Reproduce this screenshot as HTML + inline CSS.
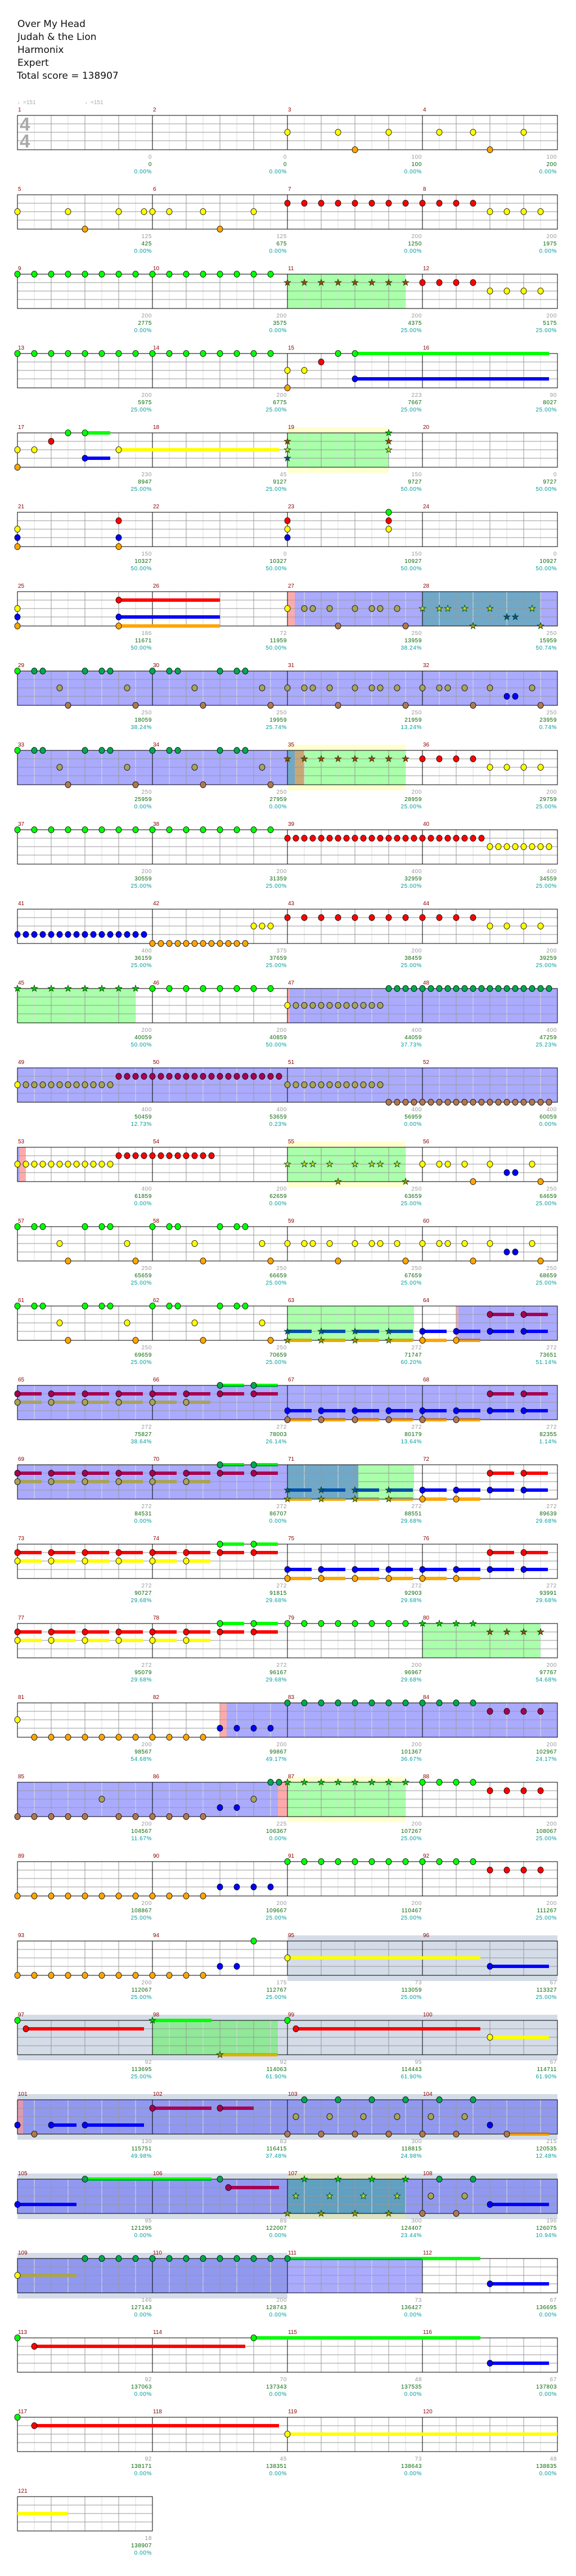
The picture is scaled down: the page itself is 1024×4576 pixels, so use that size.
<!DOCTYPE html>
<html><head><meta charset="utf-8"><style>
html,body{margin:0;padding:0;background:#fff}
svg{display:block}
.t{font:17px "DejaVu Sans","Liberation Sans",sans-serif;fill:#111}
.n{font:10px "Liberation Sans",sans-serif;fill:#8b0000}
.a{font:10px "Liberation Sans",sans-serif;fill:#999;text-anchor:end;letter-spacing:.6px}
.b{font:10px "Liberation Sans",sans-serif;fill:#006400;text-anchor:end;letter-spacing:.6px}
.c{font:10px "Liberation Sans",sans-serif;fill:#009a9a;text-anchor:end;letter-spacing:.6px}
.tm{font:10px "Liberation Sans",sans-serif;fill:#aaa}
</style></head><body>
<svg xmlns="http://www.w3.org/2000/svg" width="1024" height="4576" viewBox="0 0 1024 4576">
<defs>
<g id="grid4" shape-rendering="crispEdges" fill="none">
<path d="M61 0v61M121 0v61M181 0v61M241 0v61M301 0v61M361 0v61M421 0v61M481 0v61M541 0v61M601 0v61M661 0v61M721 0v61M781 0v61M841 0v61M901 0v61M961 0v61" stroke="#ddd"/>
<path d="M91 0v61M151 0v61M211 0v61M331 0v61M391 0v61M451 0v61M571 0v61M631 0v61M691 0v61M811 0v61M871 0v61M931 0v61M31 15h960M31 30h960M31 45h960" stroke="#999"/>
<path d="M271 0v61M511 0v61M751 0v61" stroke="#000"/>
<rect x="31" y="0" width="960" height="61" stroke="#000" stroke-width="1.3"/>
</g>
<g id="grid1" shape-rendering="crispEdges" fill="none">
<path d="M61 0v61M121 0v61M181 0v61M241 0v61" stroke="#ddd"/>
<path d="M91 0v61M151 0v61M211 0v61M31 15h240M31 30h240M31 45h240" stroke="#999"/>
<rect x="31" y="0" width="240" height="61" stroke="#000" stroke-width="1.3"/>
</g>
<ellipse id="G" rx="5" ry="5.5" fill="#00ff00" stroke="#000" stroke-width=".8"/>
<ellipse id="R" rx="5" ry="5.5" fill="#ff0000" stroke="#000" stroke-width=".8"/>
<ellipse id="Y" rx="5" ry="5.5" fill="#ffff00" stroke="#000" stroke-width=".8"/>
<ellipse id="B" rx="5" ry="5.5" fill="#0000ff" stroke="#000" stroke-width=".8"/>
<ellipse id="O" rx="5" ry="5.5" fill="#ffa500" stroke="#000" stroke-width=".8"/>
<ellipse id="g" rx="5" ry="5.5" fill="#00a850" stroke="#000" stroke-width=".8"/>
<ellipse id="r" rx="5" ry="5.5" fill="#a80050" stroke="#000" stroke-width=".8"/>
<ellipse id="y" rx="5" ry="5.5" fill="#a8a458" stroke="#000" stroke-width=".8"/>
<ellipse id="o" rx="5" ry="5.5" fill="#b07850" stroke="#000" stroke-width=".8"/>
<polygon id="st" points="0,-6 1.4,-1.9 5.7,-1.9 2.3,0.7 3.5,4.9 0,2.4 -3.5,4.9 -2.3,0.7 -5.7,-1.9 -1.4,-1.9"/>
<use id="SG" href="#st" fill="#00d000" stroke="#004000" stroke-width=".8"/>
<use id="SR" href="#st" fill="#b84000" stroke="#004000" stroke-width=".8"/>
<use id="SY" href="#st" fill="#c0d820" stroke="#004000" stroke-width=".8"/>
<use id="SB" href="#st" fill="#0050b0" stroke="#004000" stroke-width=".8"/>
<use id="SO" href="#st" fill="#b09000" stroke="#004000" stroke-width=".8"/>
</defs>

<text class="t" x="31" y="48">Over My Head</text>
<text class="t" x="31" y="71">Judah &amp; the Lion</text>
<text class="t" x="31" y="94">Harmonix</text>
<text class="t" x="31" y="117">Expert</text>
<text class="t" x="30" y="140">Total score = 138907</text>
<text class="tm" x="31" y="185">♩=151</text>
<text class="tm" x="151" y="185">♩=151</text>

<!-- Row 0 -->
<g transform="translate(0,205)">
<use href="#grid4"/>
<text x="35" y="27" font-family="Liberation Sans" font-weight="bold" font-size="33" fill="#aaa">4</text>
<text x="35" y="57" font-family="Liberation Sans" font-weight="bold" font-size="33" fill="#aaa">4</text>
<use href="#Y" x="511" y="30"/><use href="#Y" x="601" y="30"/><use href="#Y" x="691" y="30"/><use href="#Y" x="781" y="30"/><use href="#Y" x="841" y="30"/><use href="#Y" x="931" y="30"/>
<use href="#O" x="631" y="61"/><use href="#O" x="871" y="61"/>
<text class="n" x="32" y="-7">1</text><text class="n" x="272" y="-7">2</text><text class="n" x="512" y="-7">3</text><text class="n" x="752" y="-7">4</text>
<text class="a" x="270" y="77">0</text><text class="b" x="270" y="90">0</text><text class="c" x="270" y="103">0.00%</text>
<text class="a" x="510" y="77">0</text><text class="b" x="510" y="90">0</text><text class="c" x="510" y="103">0.00%</text>
<text class="a" x="750" y="77">100</text><text class="b" x="750" y="90">100</text><text class="c" x="750" y="103">0.00%</text>
<text class="a" x="990" y="77">100</text><text class="b" x="990" y="90">200</text><text class="c" x="990" y="103">0.00%</text>
</g>

<!-- Row 1 -->
<g transform="translate(0,346)">
<use href="#grid4"/>
<use href="#Y" x="31" y="30"/><use href="#Y" x="121" y="30"/><use href="#Y" x="211" y="30"/><use href="#Y" x="256" y="30"/><use href="#Y" x="271" y="30"/><use href="#Y" x="301" y="30"/><use href="#Y" x="361" y="30"/><use href="#Y" x="451" y="30"/>
<use href="#O" x="151" y="61"/><use href="#O" x="391" y="61"/>
<use href="#R" x="511" y="15"/><use href="#R" x="541" y="15"/><use href="#R" x="571" y="15"/><use href="#R" x="601" y="15"/><use href="#R" x="631" y="15"/><use href="#R" x="661" y="15"/><use href="#R" x="691" y="15"/><use href="#R" x="721" y="15"/><use href="#R" x="751" y="15"/><use href="#R" x="781" y="15"/><use href="#R" x="811" y="15"/><use href="#R" x="841" y="15"/>
<use href="#Y" x="871" y="30"/><use href="#Y" x="901" y="30"/><use href="#Y" x="931" y="30"/><use href="#Y" x="961" y="30"/>
<text class="n" x="32" y="-7">5</text><text class="n" x="272" y="-7">6</text><text class="n" x="512" y="-7">7</text><text class="n" x="752" y="-7">8</text>
<text class="a" x="270" y="77">125</text><text class="b" x="270" y="90">425</text><text class="c" x="270" y="103">0.00%</text>
<text class="a" x="510" y="77">125</text><text class="b" x="510" y="90">675</text><text class="c" x="510" y="103">0.00%</text>
<text class="a" x="750" y="77">200</text><text class="b" x="750" y="90">1250</text><text class="c" x="750" y="103">0.00%</text>
<text class="a" x="990" y="77">200</text><text class="b" x="990" y="90">1975</text><text class="c" x="990" y="103">0.00%</text>
</g>

<!-- Row 2 -->
<g transform="translate(0,487)">
<rect x="511" y="0" width="210" height="61" fill="#aaffaa"/>
<use href="#grid4"/>
<use href="#G" x="31"/><use href="#G" x="61"/><use href="#G" x="91"/><use href="#G" x="121"/><use href="#G" x="151"/><use href="#G" x="181"/><use href="#G" x="211"/><use href="#G" x="241"/><use href="#G" x="271"/><use href="#G" x="301"/><use href="#G" x="331"/><use href="#G" x="361"/><use href="#G" x="391"/><use href="#G" x="421"/><use href="#G" x="451"/><use href="#G" x="481"/>
<use href="#SR" x="511" y="15"/><use href="#SR" x="541" y="15"/><use href="#SR" x="571" y="15"/><use href="#SR" x="601" y="15"/><use href="#SR" x="631" y="15"/><use href="#SR" x="661" y="15"/><use href="#SR" x="691" y="15"/><use href="#SR" x="721" y="15"/>
<use href="#R" x="751" y="15"/><use href="#R" x="781" y="15"/><use href="#R" x="811" y="15"/><use href="#R" x="841" y="15"/>
<use href="#Y" x="871" y="30"/><use href="#Y" x="901" y="30"/><use href="#Y" x="931" y="30"/><use href="#Y" x="961" y="30"/>
<text class="n" x="32" y="-7">9</text><text class="n" x="272" y="-7">10</text><text class="n" x="512" y="-7">11</text><text class="n" x="752" y="-7">12</text>
<text class="a" x="270" y="77">200</text><text class="b" x="270" y="90">2775</text><text class="c" x="270" y="103">0.00%</text>
<text class="a" x="510" y="77">200</text><text class="b" x="510" y="90">3575</text><text class="c" x="510" y="103">0.00%</text>
<text class="a" x="750" y="77">200</text><text class="b" x="750" y="90">4375</text><text class="c" x="750" y="103">25.00%</text>
<text class="a" x="990" y="77">200</text><text class="b" x="990" y="90">5175</text><text class="c" x="990" y="103">25.00%</text>
</g>

<!-- Row 3 -->
<g transform="translate(0,628)">
<use href="#grid4"/>
<rect x="631" y="-3" width="345" height="6" fill="#00ff00"/>
<rect x="631" y="42" width="345" height="6" fill="#0000ff"/>
<use href="#G" x="31"/><use href="#G" x="61"/><use href="#G" x="91"/><use href="#G" x="121"/><use href="#G" x="151"/><use href="#G" x="181"/><use href="#G" x="211"/><use href="#G" x="241"/><use href="#G" x="271"/><use href="#G" x="301"/><use href="#G" x="331"/><use href="#G" x="361"/><use href="#G" x="391"/><use href="#G" x="421"/><use href="#G" x="451"/><use href="#G" x="481"/>
<use href="#G" x="601"/><use href="#G" x="631"/><use href="#R" x="571" y="15"/>
<use href="#Y" x="511" y="30"/><use href="#Y" x="541" y="30"/><use href="#O" x="511" y="61"/><use href="#B" x="631" y="45"/>
<text class="n" x="32" y="-7">13</text><text class="n" x="272" y="-7">14</text><text class="n" x="512" y="-7">15</text><text class="n" x="752" y="-7">16</text>
<text class="a" x="270" y="77">200</text><text class="b" x="270" y="90">5975</text><text class="c" x="270" y="103">25.00%</text>
<text class="a" x="510" y="77">200</text><text class="b" x="510" y="90">6775</text><text class="c" x="510" y="103">25.00%</text>
<text class="a" x="750" y="77">223</text><text class="b" x="750" y="90">7667</text><text class="c" x="750" y="103">25.00%</text>
<text class="a" x="990" y="77">90</text><text class="b" x="990" y="90">8027</text><text class="c" x="990" y="103">25.00%</text>
</g>

<!-- Row 4 -->
<g transform="translate(0,769)">
<rect x="511" y="-10" width="180" height="81" fill="#ffffd0"/>
<rect x="511" y="0" width="180" height="61" fill="#aaffaa"/>
<use href="#grid4"/>
<rect x="151" y="-3" width="45" height="6" fill="#00ff00"/>
<rect x="211" y="27" width="285" height="6" fill="#ffff00"/>
<rect x="151" y="42" width="45" height="6" fill="#0000ff"/>
<use href="#G" x="121"/><use href="#G" x="151"/><use href="#R" x="91" y="15"/>
<use href="#Y" x="31" y="30"/><use href="#Y" x="61" y="30"/><use href="#Y" x="211" y="30"/>
<use href="#B" x="151" y="45"/><use href="#O" x="31" y="61"/>
<use href="#SR" x="511" y="15"/><use href="#SY" x="511" y="30"/><use href="#SB" x="511" y="45"/>
<use href="#SG" x="691" y="0"/><use href="#SR" x="691" y="15"/><use href="#SY" x="691" y="30"/>
<text class="n" x="32" y="-7">17</text><text class="n" x="272" y="-7">18</text><text class="n" x="512" y="-7">19</text><text class="n" x="752" y="-7">20</text>
<text class="a" x="270" y="77">230</text><text class="b" x="270" y="90">8947</text><text class="c" x="270" y="103">25.00%</text>
<text class="a" x="510" y="77">45</text><text class="b" x="510" y="90">9127</text><text class="c" x="510" y="103">25.00%</text>
<text class="a" x="750" y="77">150</text><text class="b" x="750" y="90">9727</text><text class="c" x="750" y="103">50.00%</text>
<text class="a" x="990" y="77">0</text><text class="b" x="990" y="90">9727</text><text class="c" x="990" y="103">50.00%</text>
</g>

<!-- Row 5 -->
<g transform="translate(0,910)">
<use href="#grid4"/>
<use href="#Y" x="31" y="30"/><use href="#B" x="31" y="45"/><use href="#O" x="31" y="61"/>
<use href="#R" x="211" y="15"/><use href="#B" x="211" y="45"/><use href="#O" x="211" y="61"/>
<use href="#R" x="511" y="15"/><use href="#Y" x="511" y="30"/><use href="#B" x="511" y="45"/>
<use href="#G" x="691" y="0"/><use href="#R" x="691" y="15"/><use href="#Y" x="691" y="30"/>
<text class="n" x="32" y="-7">21</text><text class="n" x="272" y="-7">22</text><text class="n" x="512" y="-7">23</text><text class="n" x="752" y="-7">24</text>
<text class="a" x="270" y="77">150</text><text class="b" x="270" y="90">10327</text><text class="c" x="270" y="103">50.00%</text>
<text class="a" x="510" y="77">0</text><text class="b" x="510" y="90">10327</text><text class="c" x="510" y="103">50.00%</text>
<text class="a" x="750" y="77">150</text><text class="b" x="750" y="90">10927</text><text class="c" x="750" y="103">50.00%</text>
<text class="a" x="990" y="77">0</text><text class="b" x="990" y="90">10927</text><text class="c" x="990" y="103">50.00%</text>
</g>

<!-- Row 6 -->
<g transform="translate(0,1051)">
<rect x="511" y="0" width="13" height="61" fill="#ffaaaa"/>
<rect x="524" y="0" width="467" height="61" fill="#aaaaff"/>
<rect x="751" y="0" width="210" height="61" fill="#70a8c8"/>
<use href="#grid4"/>
<rect x="211" y="12" width="180" height="6" fill="#ff0000"/>
<rect x="211" y="42" width="180" height="6" fill="#0000ff"/>
<rect x="211" y="58" width="180" height="6" fill="#ffa500"/>
<use href="#Y" x="31" y="30"/><use href="#B" x="31" y="45"/><use href="#O" x="31" y="61"/>
<use href="#R" x="211" y="15"/><use href="#B" x="211" y="45"/><use href="#O" x="211" y="61"/>
<use href="#Y" x="511" y="30"/>
<use href="#y" x="541" y="30"/><use href="#y" x="556" y="30"/><use href="#y" x="586" y="30"/><use href="#y" x="631" y="30"/><use href="#y" x="661" y="30"/><use href="#y" x="676" y="30"/><use href="#y" x="706" y="30"/>
<use href="#o" x="601" y="61"/><use href="#o" x="721" y="61"/>
<use href="#SY" x="751" y="30"/><use href="#SY" x="781" y="30"/><use href="#SY" x="796" y="30"/><use href="#SY" x="826" y="30"/><use href="#SY" x="871" y="30"/><use href="#SY" x="946" y="30"/>
<use href="#SB" x="901" y="45"/><use href="#SB" x="916" y="45"/><use href="#SO" x="841" y="61"/><use href="#SO" x="961" y="61"/>
<text class="n" x="32" y="-7">25</text><text class="n" x="272" y="-7">26</text><text class="n" x="512" y="-7">27</text><text class="n" x="752" y="-7">28</text>
<text class="a" x="270" y="77">186</text><text class="b" x="270" y="90">11671</text><text class="c" x="270" y="103">50.00%</text>
<text class="a" x="510" y="77">72</text><text class="b" x="510" y="90">11959</text><text class="c" x="510" y="103">50.00%</text>
<text class="a" x="750" y="77">250</text><text class="b" x="750" y="90">13959</text><text class="c" x="750" y="103">38.24%</text>
<text class="a" x="990" y="77">250</text><text class="b" x="990" y="90">15959</text><text class="c" x="990" y="103">50.74%</text>
</g>

<!-- Row 7 -->
<g transform="translate(0,1192)">
<rect x="31" y="0" width="960" height="61" fill="#aaaaff"/>
<use href="#grid4"/>
<use href="#G" x="31"/><use href="#g" x="61"/><use href="#g" x="76"/><use href="#g" x="151"/><use href="#g" x="181"/><use href="#g" x="196"/><use href="#g" x="271"/><use href="#g" x="301"/><use href="#g" x="316"/><use href="#g" x="391"/><use href="#g" x="421"/><use href="#g" x="436"/>
<use href="#y" x="106" y="30"/><use href="#y" x="226" y="30"/><use href="#y" x="346" y="30"/><use href="#y" x="466" y="30"/>
<use href="#o" x="121" y="61"/><use href="#o" x="241" y="61"/><use href="#o" x="361" y="61"/><use href="#o" x="481" y="61"/>
<use href="#y" x="511" y="30"/><use href="#y" x="541" y="30"/><use href="#y" x="556" y="30"/><use href="#y" x="586" y="30"/><use href="#y" x="631" y="30"/><use href="#y" x="661" y="30"/><use href="#y" x="676" y="30"/><use href="#y" x="706" y="30"/><use href="#y" x="751" y="30"/><use href="#y" x="781" y="30"/><use href="#y" x="796" y="30"/><use href="#y" x="826" y="30"/><use href="#y" x="871" y="30"/><use href="#y" x="946" y="30"/>
<use href="#B" x="901" y="45"/><use href="#B" x="916" y="45"/>
<use href="#o" x="601" y="61"/><use href="#o" x="721" y="61"/><use href="#o" x="841" y="61"/><use href="#o" x="961" y="61"/>
<text class="n" x="32" y="-7">29</text><text class="n" x="272" y="-7">30</text><text class="n" x="512" y="-7">31</text><text class="n" x="752" y="-7">32</text>
<text class="a" x="270" y="77">250</text><text class="b" x="270" y="90">18059</text><text class="c" x="270" y="103">38.24%</text>
<text class="a" x="510" y="77">250</text><text class="b" x="510" y="90">19959</text><text class="c" x="510" y="103">25.74%</text>
<text class="a" x="750" y="77">250</text><text class="b" x="750" y="90">21959</text><text class="c" x="750" y="103">13.24%</text>
<text class="a" x="990" y="77">250</text><text class="b" x="990" y="90">23959</text><text class="c" x="990" y="103">0.74%</text>
</g>

<!-- Row 8 -->
<g transform="translate(0,1333)">
<rect x="31" y="0" width="480" height="61" fill="#aaaaff"/>
<rect x="511" y="-10" width="210" height="81" fill="#ffffd0"/>
<rect x="511" y="0" width="210" height="61" fill="#aaffaa"/>
<rect x="511" y="0" width="13" height="61" fill="#70a8c8"/>
<rect x="524" y="0" width="17" height="61" fill="#c8a878"/>
<use href="#grid4"/>
<use href="#G" x="31"/><use href="#g" x="61"/><use href="#g" x="76"/><use href="#g" x="151"/><use href="#g" x="181"/><use href="#g" x="196"/><use href="#g" x="271"/><use href="#g" x="301"/><use href="#g" x="316"/><use href="#g" x="391"/><use href="#g" x="421"/><use href="#g" x="436"/>
<use href="#y" x="106" y="30"/><use href="#y" x="226" y="30"/><use href="#y" x="346" y="30"/><use href="#y" x="466" y="30"/>
<use href="#o" x="121" y="61"/><use href="#o" x="241" y="61"/><use href="#o" x="361" y="61"/><use href="#o" x="481" y="61"/>
<use href="#SR" x="511" y="15"/><use href="#SR" x="541" y="15"/><use href="#SR" x="571" y="15"/><use href="#SR" x="601" y="15"/><use href="#SR" x="631" y="15"/><use href="#SR" x="661" y="15"/><use href="#SR" x="691" y="15"/><use href="#SR" x="721" y="15"/>
<use href="#R" x="751" y="15"/><use href="#R" x="781" y="15"/><use href="#R" x="811" y="15"/><use href="#R" x="841" y="15"/>
<use href="#Y" x="871" y="30"/><use href="#Y" x="901" y="30"/><use href="#Y" x="931" y="30"/><use href="#Y" x="961" y="30"/>
<text class="n" x="32" y="-7">33</text><text class="n" x="272" y="-7">34</text><text class="n" x="512" y="-7">35</text><text class="n" x="752" y="-7">36</text>
<text class="a" x="270" y="77">250</text><text class="b" x="270" y="90">25959</text><text class="c" x="270" y="103">0.00%</text>
<text class="a" x="510" y="77">250</text><text class="b" x="510" y="90">27959</text><text class="c" x="510" y="103">0.00%</text>
<text class="a" x="750" y="77">200</text><text class="b" x="750" y="90">28959</text><text class="c" x="750" y="103">25.00%</text>
<text class="a" x="990" y="77">200</text><text class="b" x="990" y="90">29759</text><text class="c" x="990" y="103">25.00%</text>
</g>

<!-- Row 9 -->
<g transform="translate(0,1474)">
<use href="#grid4"/>
<use href="#G" x="31"/><use href="#G" x="61"/><use href="#G" x="91"/><use href="#G" x="121"/><use href="#G" x="151"/><use href="#G" x="181"/><use href="#G" x="211"/><use href="#G" x="241"/><use href="#G" x="271"/><use href="#G" x="301"/><use href="#G" x="331"/><use href="#G" x="361"/><use href="#G" x="391"/><use href="#G" x="421"/><use href="#G" x="451"/><use href="#G" x="481"/>
<use href="#R" x="511" y="15"/><use href="#R" x="526" y="15"/><use href="#R" x="541" y="15"/><use href="#R" x="556" y="15"/><use href="#R" x="571" y="15"/><use href="#R" x="586" y="15"/><use href="#R" x="601" y="15"/><use href="#R" x="616" y="15"/><use href="#R" x="631" y="15"/><use href="#R" x="646" y="15"/><use href="#R" x="661" y="15"/><use href="#R" x="676" y="15"/><use href="#R" x="691" y="15"/><use href="#R" x="706" y="15"/><use href="#R" x="721" y="15"/><use href="#R" x="736" y="15"/><use href="#R" x="751" y="15"/><use href="#R" x="766" y="15"/><use href="#R" x="781" y="15"/><use href="#R" x="796" y="15"/><use href="#R" x="811" y="15"/><use href="#R" x="826" y="15"/><use href="#R" x="841" y="15"/><use href="#R" x="856" y="15"/>
<use href="#Y" x="871" y="30"/><use href="#Y" x="886" y="30"/><use href="#Y" x="901" y="30"/><use href="#Y" x="916" y="30"/><use href="#Y" x="931" y="30"/><use href="#Y" x="946" y="30"/><use href="#Y" x="961" y="30"/><use href="#Y" x="976" y="30"/>
<text class="n" x="32" y="-7">37</text><text class="n" x="272" y="-7">38</text><text class="n" x="512" y="-7">39</text><text class="n" x="752" y="-7">40</text>
<text class="a" x="270" y="77">200</text><text class="b" x="270" y="90">30559</text><text class="c" x="270" y="103">25.00%</text>
<text class="a" x="510" y="77">200</text><text class="b" x="510" y="90">31359</text><text class="c" x="510" y="103">25.00%</text>
<text class="a" x="750" y="77">400</text><text class="b" x="750" y="90">32959</text><text class="c" x="750" y="103">25.00%</text>
<text class="a" x="990" y="77">400</text><text class="b" x="990" y="90">34559</text><text class="c" x="990" y="103">25.00%</text>
</g>

<!-- Row 10 -->
<g transform="translate(0,1615)">
<use href="#grid4"/>
<use href="#B" x="31" y="45"/><use href="#B" x="46" y="45"/><use href="#B" x="61" y="45"/><use href="#B" x="76" y="45"/><use href="#B" x="91" y="45"/><use href="#B" x="106" y="45"/><use href="#B" x="121" y="45"/><use href="#B" x="136" y="45"/><use href="#B" x="151" y="45"/><use href="#B" x="166" y="45"/><use href="#B" x="181" y="45"/><use href="#B" x="196" y="45"/><use href="#B" x="211" y="45"/><use href="#B" x="226" y="45"/><use href="#B" x="241" y="45"/><use href="#B" x="256" y="45"/>
<use href="#O" x="271" y="61"/><use href="#O" x="286" y="61"/><use href="#O" x="301" y="61"/><use href="#O" x="316" y="61"/><use href="#O" x="331" y="61"/><use href="#O" x="346" y="61"/><use href="#O" x="361" y="61"/><use href="#O" x="376" y="61"/><use href="#O" x="391" y="61"/><use href="#O" x="406" y="61"/><use href="#O" x="421" y="61"/><use href="#O" x="436" y="61"/>
<use href="#Y" x="451" y="30"/><use href="#Y" x="466" y="30"/><use href="#Y" x="481" y="30"/>
<use href="#R" x="511" y="15"/><use href="#R" x="541" y="15"/><use href="#R" x="571" y="15"/><use href="#R" x="601" y="15"/><use href="#R" x="631" y="15"/><use href="#R" x="661" y="15"/><use href="#R" x="691" y="15"/><use href="#R" x="721" y="15"/><use href="#R" x="751" y="15"/><use href="#R" x="781" y="15"/><use href="#R" x="811" y="15"/><use href="#R" x="841" y="15"/>
<use href="#Y" x="871" y="30"/><use href="#Y" x="901" y="30"/><use href="#Y" x="931" y="30"/><use href="#Y" x="961" y="30"/>
<text class="n" x="32" y="-7">41</text><text class="n" x="272" y="-7">42</text><text class="n" x="512" y="-7">43</text><text class="n" x="752" y="-7">44</text>
<text class="a" x="270" y="77">400</text><text class="b" x="270" y="90">36159</text><text class="c" x="270" y="103">25.00%</text>
<text class="a" x="510" y="77">375</text><text class="b" x="510" y="90">37659</text><text class="c" x="510" y="103">25.00%</text>
<text class="a" x="750" y="77">200</text><text class="b" x="750" y="90">38459</text><text class="c" x="750" y="103">25.00%</text>
<text class="a" x="990" y="77">200</text><text class="b" x="990" y="90">39259</text><text class="c" x="990" y="103">25.00%</text>
</g>

<!-- Row 11 -->
<g transform="translate(0,1756)">
<rect x="31" y="0" width="210" height="61" fill="#aaffaa"/>
<rect x="511" y="0" width="4" height="61" fill="#ffaaaa"/>
<rect x="515" y="0" width="476" height="61" fill="#aaaaff"/>
<use href="#grid4"/>
<use href="#SG" x="31"/><use href="#SG" x="61"/><use href="#SG" x="91"/><use href="#SG" x="121"/><use href="#SG" x="151"/><use href="#SG" x="181"/><use href="#SG" x="211"/><use href="#SG" x="241"/>
<use href="#G" x="271"/><use href="#G" x="301"/><use href="#G" x="331"/><use href="#G" x="361"/><use href="#G" x="391"/><use href="#G" x="421"/><use href="#G" x="451"/><use href="#G" x="481"/>
<use href="#Y" x="511" y="30"/><use href="#y" x="526" y="30"/><use href="#y" x="541" y="30"/><use href="#y" x="556" y="30"/><use href="#y" x="571" y="30"/><use href="#y" x="586" y="30"/><use href="#y" x="601" y="30"/><use href="#y" x="616" y="30"/><use href="#y" x="631" y="30"/><use href="#y" x="646" y="30"/><use href="#y" x="661" y="30"/><use href="#y" x="676" y="30"/>
<use href="#g" x="691"/><use href="#g" x="706"/><use href="#g" x="721"/><use href="#g" x="736"/><use href="#g" x="751"/><use href="#g" x="766"/><use href="#g" x="781"/><use href="#g" x="796"/><use href="#g" x="811"/><use href="#g" x="826"/><use href="#g" x="841"/><use href="#g" x="856"/><use href="#g" x="871"/><use href="#g" x="886"/><use href="#g" x="901"/><use href="#g" x="916"/><use href="#g" x="931"/><use href="#g" x="946"/><use href="#g" x="961"/><use href="#g" x="976"/>
<text class="n" x="32" y="-7">45</text><text class="n" x="272" y="-7">46</text><text class="n" x="512" y="-7">47</text><text class="n" x="752" y="-7">48</text>
<text class="a" x="270" y="77">200</text><text class="b" x="270" y="90">40059</text><text class="c" x="270" y="103">50.00%</text>
<text class="a" x="510" y="77">200</text><text class="b" x="510" y="90">40859</text><text class="c" x="510" y="103">50.00%</text>
<text class="a" x="750" y="77">400</text><text class="b" x="750" y="90">44059</text><text class="c" x="750" y="103">37.73%</text>
<text class="a" x="990" y="77">400</text><text class="b" x="990" y="90">47259</text><text class="c" x="990" y="103">25.23%</text>
</g>

<!-- Row 12 -->
<g transform="translate(0,1897)">
<rect x="31" y="0" width="960" height="61" fill="#aaaaff"/>
<use href="#grid4"/>
<use href="#Y" x="31" y="30"/><use href="#y" x="46" y="30"/><use href="#y" x="61" y="30"/><use href="#y" x="76" y="30"/><use href="#y" x="91" y="30"/><use href="#y" x="106" y="30"/><use href="#y" x="121" y="30"/><use href="#y" x="136" y="30"/><use href="#y" x="151" y="30"/><use href="#y" x="166" y="30"/><use href="#y" x="181" y="30"/><use href="#y" x="196" y="30"/>
<use href="#r" x="211" y="15"/><use href="#r" x="226" y="15"/><use href="#r" x="241" y="15"/><use href="#r" x="256" y="15"/><use href="#r" x="271" y="15"/><use href="#r" x="286" y="15"/><use href="#r" x="301" y="15"/><use href="#r" x="316" y="15"/><use href="#r" x="331" y="15"/><use href="#r" x="346" y="15"/><use href="#r" x="361" y="15"/><use href="#r" x="376" y="15"/><use href="#r" x="391" y="15"/><use href="#r" x="406" y="15"/><use href="#r" x="421" y="15"/><use href="#r" x="436" y="15"/><use href="#r" x="451" y="15"/><use href="#r" x="466" y="15"/><use href="#r" x="481" y="15"/><use href="#r" x="496" y="15"/>
<use href="#y" x="511" y="30"/><use href="#y" x="526" y="30"/><use href="#y" x="541" y="30"/><use href="#y" x="556" y="30"/><use href="#y" x="571" y="30"/><use href="#y" x="586" y="30"/><use href="#y" x="601" y="30"/><use href="#y" x="616" y="30"/><use href="#y" x="631" y="30"/><use href="#y" x="646" y="30"/><use href="#y" x="661" y="30"/><use href="#y" x="676" y="30"/>
<use href="#o" x="691" y="61"/><use href="#o" x="706" y="61"/><use href="#o" x="721" y="61"/><use href="#o" x="736" y="61"/><use href="#o" x="751" y="61"/><use href="#o" x="766" y="61"/><use href="#o" x="781" y="61"/><use href="#o" x="796" y="61"/><use href="#o" x="811" y="61"/><use href="#o" x="826" y="61"/><use href="#o" x="841" y="61"/><use href="#o" x="856" y="61"/><use href="#o" x="871" y="61"/><use href="#o" x="886" y="61"/><use href="#o" x="901" y="61"/><use href="#o" x="916" y="61"/><use href="#o" x="931" y="61"/><use href="#o" x="946" y="61"/><use href="#o" x="961" y="61"/><use href="#o" x="976" y="61"/>
<text class="n" x="32" y="-7">49</text><text class="n" x="272" y="-7">50</text><text class="n" x="512" y="-7">51</text><text class="n" x="752" y="-7">52</text>
<text class="a" x="270" y="77">400</text><text class="b" x="270" y="90">50459</text><text class="c" x="270" y="103">12.73%</text>
<text class="a" x="510" y="77">400</text><text class="b" x="510" y="90">53659</text><text class="c" x="510" y="103">0.23%</text>
<text class="a" x="750" y="77">400</text><text class="b" x="750" y="90">56959</text><text class="c" x="750" y="103">0.00%</text>
<text class="a" x="990" y="77">400</text><text class="b" x="990" y="90">60059</text><text class="c" x="990" y="103">0.00%</text>
</g>

<!-- Row 13 -->
<g transform="translate(0,2038)">
<rect x="31" y="0" width="4" height="61" fill="#aaaaff"/>
<rect x="35" y="0" width="11" height="61" fill="#ffaaaa"/>
<rect x="511" y="-10" width="210" height="81" fill="#ffffd0"/>
<rect x="511" y="0" width="210" height="61" fill="#aaffaa"/>
<use href="#grid4"/>
<use href="#Y" x="31" y="30"/><use href="#Y" x="46" y="30"/><use href="#Y" x="61" y="30"/><use href="#Y" x="76" y="30"/><use href="#Y" x="91" y="30"/><use href="#Y" x="106" y="30"/><use href="#Y" x="121" y="30"/><use href="#Y" x="136" y="30"/><use href="#Y" x="151" y="30"/><use href="#Y" x="166" y="30"/><use href="#Y" x="181" y="30"/><use href="#Y" x="196" y="30"/>
<use href="#R" x="211" y="15"/><use href="#R" x="226" y="15"/><use href="#R" x="241" y="15"/><use href="#R" x="256" y="15"/><use href="#R" x="271" y="15"/><use href="#R" x="286" y="15"/><use href="#R" x="301" y="15"/><use href="#R" x="316" y="15"/><use href="#R" x="331" y="15"/><use href="#R" x="346" y="15"/><use href="#R" x="361" y="15"/><use href="#R" x="376" y="15"/>
<use href="#SY" x="511" y="30"/><use href="#SY" x="541" y="30"/><use href="#SY" x="556" y="30"/><use href="#SY" x="586" y="30"/><use href="#SY" x="631" y="30"/><use href="#SY" x="661" y="30"/><use href="#SY" x="676" y="30"/><use href="#SY" x="706" y="30"/>
<use href="#SO" x="601" y="61"/><use href="#SO" x="721" y="61"/>
<use href="#Y" x="751" y="30"/><use href="#Y" x="781" y="30"/><use href="#Y" x="796" y="30"/><use href="#Y" x="826" y="30"/><use href="#Y" x="871" y="30"/><use href="#Y" x="946" y="30"/>
<use href="#B" x="901" y="45"/><use href="#B" x="916" y="45"/><use href="#O" x="841" y="61"/><use href="#O" x="961" y="61"/>
<text class="n" x="32" y="-7">53</text><text class="n" x="272" y="-7">54</text><text class="n" x="512" y="-7">55</text><text class="n" x="752" y="-7">56</text>
<text class="a" x="270" y="77">400</text><text class="b" x="270" y="90">61859</text><text class="c" x="270" y="103">0.00%</text>
<text class="a" x="510" y="77">200</text><text class="b" x="510" y="90">62659</text><text class="c" x="510" y="103">0.00%</text>
<text class="a" x="750" y="77">250</text><text class="b" x="750" y="90">63659</text><text class="c" x="750" y="103">25.00%</text>
<text class="a" x="990" y="77">250</text><text class="b" x="990" y="90">64659</text><text class="c" x="990" y="103">25.00%</text>
</g>

<!-- Row 14 -->
<g transform="translate(0,2179)">
<use href="#grid4"/>
<use href="#G" x="31"/><use href="#G" x="61"/><use href="#G" x="76"/><use href="#G" x="151"/><use href="#G" x="181"/><use href="#G" x="196"/><use href="#G" x="271"/><use href="#G" x="301"/><use href="#G" x="316"/><use href="#G" x="391"/><use href="#G" x="421"/><use href="#G" x="436"/>
<use href="#Y" x="106" y="30"/><use href="#Y" x="226" y="30"/><use href="#Y" x="346" y="30"/><use href="#Y" x="466" y="30"/>
<use href="#O" x="121" y="61"/><use href="#O" x="241" y="61"/><use href="#O" x="361" y="61"/><use href="#O" x="481" y="61"/>
<use href="#Y" x="511" y="30"/><use href="#Y" x="541" y="30"/><use href="#Y" x="556" y="30"/><use href="#Y" x="586" y="30"/><use href="#Y" x="631" y="30"/><use href="#Y" x="661" y="30"/><use href="#Y" x="676" y="30"/><use href="#Y" x="706" y="30"/><use href="#Y" x="751" y="30"/><use href="#Y" x="781" y="30"/><use href="#Y" x="796" y="30"/><use href="#Y" x="826" y="30"/><use href="#Y" x="871" y="30"/><use href="#Y" x="946" y="30"/>
<use href="#B" x="901" y="45"/><use href="#B" x="916" y="45"/>
<use href="#O" x="601" y="61"/><use href="#O" x="721" y="61"/><use href="#O" x="841" y="61"/><use href="#O" x="961" y="61"/>
<text class="n" x="32" y="-7">57</text><text class="n" x="272" y="-7">58</text><text class="n" x="512" y="-7">59</text><text class="n" x="752" y="-7">60</text>
<text class="a" x="270" y="77">250</text><text class="b" x="270" y="90">65659</text><text class="c" x="270" y="103">25.00%</text>
<text class="a" x="510" y="77">250</text><text class="b" x="510" y="90">66659</text><text class="c" x="510" y="103">25.00%</text>
<text class="a" x="750" y="77">250</text><text class="b" x="750" y="90">67659</text><text class="c" x="750" y="103">25.00%</text>
<text class="a" x="990" y="77">250</text><text class="b" x="990" y="90">68659</text><text class="c" x="990" y="103">25.00%</text>
</g>

<!-- Row 15 -->
<g transform="translate(0,2320)">
<rect x="511" y="0" width="225" height="61" fill="#aaffaa"/>
<rect x="811" y="0" width="4" height="61" fill="#ffaaaa"/>
<rect x="815" y="0" width="176" height="61" fill="#aaaaff"/>
<use href="#grid4"/>
<use href="#G" x="31"/><use href="#G" x="61"/><use href="#G" x="76"/><use href="#G" x="151"/><use href="#G" x="181"/><use href="#G" x="196"/><use href="#G" x="271"/><use href="#G" x="301"/><use href="#G" x="316"/><use href="#G" x="391"/><use href="#G" x="421"/><use href="#G" x="436"/>
<use href="#Y" x="106" y="30"/><use href="#Y" x="226" y="30"/><use href="#Y" x="346" y="30"/><use href="#Y" x="466" y="30"/>
<use href="#O" x="121" y="61"/><use href="#O" x="241" y="61"/><use href="#O" x="361" y="61"/><use href="#O" x="481" y="61"/>
<g fill="#0050a8"><rect x="511" y="42" width="43" height="6"/><rect x="571" y="42" width="43" height="6"/><rect x="631" y="42" width="43" height="6"/><rect x="691" y="42" width="43" height="6"/></g>
<g fill="#b0c000"><rect x="511" y="58" width="43" height="3"/><rect x="571" y="58" width="43" height="3"/><rect x="631" y="58" width="43" height="3"/><rect x="691" y="58" width="43" height="3"/></g>
<g fill="#ffa500"><rect x="511" y="61" width="43" height="3"/><rect x="571" y="61" width="43" height="3"/><rect x="631" y="61" width="43" height="3"/><rect x="691" y="61" width="43" height="3"/><rect x="751" y="58" width="43" height="6"/><rect x="811" y="61" width="43" height="3"/></g>
<rect x="811" y="58" width="43" height="3" fill="#b07850"/>
<g fill="#0000ff"><rect x="751" y="42" width="43" height="6"/><rect x="811" y="42" width="43" height="6"/><rect x="871" y="42" width="43" height="6"/><rect x="931" y="42" width="43" height="6"/></g>
<g fill="#a80050"><rect x="871" y="12" width="43" height="6"/><rect x="931" y="12" width="43" height="6"/></g>
<use href="#SB" x="511" y="45"/><use href="#SB" x="571" y="45"/><use href="#SB" x="631" y="45"/><use href="#SB" x="691" y="45"/>
<use href="#SO" x="511" y="61"/><use href="#SO" x="571" y="61"/><use href="#SO" x="631" y="61"/><use href="#SO" x="691" y="61"/>
<use href="#B" x="751" y="45"/><use href="#O" x="751" y="61"/><use href="#B" x="811" y="45"/><use href="#O" x="811" y="61"/><use href="#B" x="871" y="45"/><use href="#B" x="931" y="45"/><use href="#r" x="871" y="15"/><use href="#r" x="931" y="15"/>
<text class="n" x="32" y="-7">61</text><text class="n" x="272" y="-7">62</text><text class="n" x="512" y="-7">63</text><text class="n" x="752" y="-7">64</text>
<text class="a" x="270" y="77">250</text><text class="b" x="270" y="90">69659</text><text class="c" x="270" y="103">25.00%</text>
<text class="a" x="510" y="77">250</text><text class="b" x="510" y="90">70659</text><text class="c" x="510" y="103">25.00%</text>
<text class="a" x="750" y="77">272</text><text class="b" x="750" y="90">71747</text><text class="c" x="750" y="103">60.20%</text>
<text class="a" x="990" y="77">272</text><text class="b" x="990" y="90">73651</text><text class="c" x="990" y="103">51.14%</text>
</g>

<!-- Row 16 -->
<g transform="translate(0,2461)">
<rect x="31" y="0" width="960" height="61" fill="#aaaaff"/>
<use href="#grid4"/>
<g fill="#a80050"><rect x="31" y="12" width="43" height="6"/><rect x="91" y="12" width="43" height="6"/><rect x="151" y="12" width="43" height="6"/><rect x="211" y="12" width="43" height="6"/><rect x="271" y="12" width="43" height="6"/><rect x="331" y="12" width="43" height="6"/><rect x="391" y="12" width="43" height="6"/><rect x="451" y="12" width="43" height="6"/><rect x="871" y="12" width="43" height="6"/><rect x="931" y="12" width="43" height="6"/></g>
<g fill="#a8a458"><rect x="31" y="27" width="43" height="6"/><rect x="91" y="27" width="43" height="6"/><rect x="151" y="27" width="43" height="6"/><rect x="211" y="27" width="43" height="6"/><rect x="271" y="27" width="43" height="6"/><rect x="331" y="27" width="43" height="6"/></g>
<g fill="#00ff00"><rect x="391" y="-3" width="43" height="3"/><rect x="451" y="-3" width="43" height="3"/></g>
<g fill="#00a850"><rect x="391" y="0" width="43" height="3"/><rect x="451" y="0" width="43" height="3"/></g>
<g fill="#0000ff"><rect x="511" y="42" width="43" height="6"/><rect x="571" y="42" width="43" height="6"/><rect x="631" y="42" width="43" height="6"/><rect x="691" y="42" width="43" height="6"/><rect x="751" y="42" width="43" height="6"/><rect x="811" y="42" width="43" height="6"/><rect x="871" y="42" width="43" height="6"/><rect x="931" y="42" width="43" height="6"/></g>
<g fill="#b07850"><rect x="511" y="58" width="43" height="3"/><rect x="571" y="58" width="43" height="3"/><rect x="631" y="58" width="43" height="3"/><rect x="691" y="58" width="43" height="3"/><rect x="751" y="58" width="43" height="3"/><rect x="811" y="58" width="43" height="3"/></g>
<g fill="#ffa500"><rect x="511" y="61" width="43" height="3"/><rect x="571" y="61" width="43" height="3"/><rect x="631" y="61" width="43" height="3"/><rect x="691" y="61" width="43" height="3"/><rect x="751" y="61" width="43" height="3"/><rect x="811" y="61" width="43" height="3"/></g>
<use href="#r" x="31" y="15"/><use href="#r" x="91" y="15"/><use href="#r" x="151" y="15"/><use href="#r" x="211" y="15"/><use href="#r" x="271" y="15"/><use href="#r" x="331" y="15"/><use href="#r" x="391" y="15"/><use href="#r" x="451" y="15"/>
<use href="#y" x="31" y="30"/><use href="#y" x="91" y="30"/><use href="#y" x="151" y="30"/><use href="#y" x="211" y="30"/><use href="#y" x="271" y="30"/><use href="#y" x="331" y="30"/>
<use href="#g" x="391"/><use href="#g" x="451"/>
<use href="#B" x="511" y="45"/><use href="#B" x="571" y="45"/><use href="#B" x="631" y="45"/><use href="#B" x="691" y="45"/><use href="#B" x="751" y="45"/><use href="#B" x="811" y="45"/><use href="#B" x="871" y="45"/><use href="#B" x="931" y="45"/>
<use href="#o" x="511" y="61"/><use href="#o" x="571" y="61"/><use href="#o" x="631" y="61"/><use href="#o" x="691" y="61"/><use href="#o" x="751" y="61"/><use href="#o" x="811" y="61"/>
<use href="#r" x="871" y="15"/><use href="#r" x="931" y="15"/>
<text class="n" x="32" y="-7">65</text><text class="n" x="272" y="-7">66</text><text class="n" x="512" y="-7">67</text><text class="n" x="752" y="-7">68</text>
<text class="a" x="270" y="77">272</text><text class="b" x="270" y="90">75827</text><text class="c" x="270" y="103">38.64%</text>
<text class="a" x="510" y="77">272</text><text class="b" x="510" y="90">78003</text><text class="c" x="510" y="103">26.14%</text>
<text class="a" x="750" y="77">272</text><text class="b" x="750" y="90">80179</text><text class="c" x="750" y="103">13.64%</text>
<text class="a" x="990" y="77">272</text><text class="b" x="990" y="90">82355</text><text class="c" x="990" y="103">1.14%</text>
</g>

<!-- Row 17 -->
<g transform="translate(0,2602)">
<rect x="31" y="0" width="480" height="61" fill="#aaaaff"/>
<rect x="511" y="0" width="126" height="61" fill="#70a8c8"/>
<rect x="637" y="0" width="99" height="61" fill="#aaffaa"/>
<use href="#grid4"/>
<g fill="#a80050"><rect x="31" y="12" width="43" height="6"/><rect x="91" y="12" width="43" height="6"/><rect x="151" y="12" width="43" height="6"/><rect x="211" y="12" width="43" height="6"/><rect x="271" y="12" width="43" height="6"/><rect x="331" y="12" width="43" height="6"/><rect x="391" y="12" width="43" height="6"/><rect x="451" y="12" width="43" height="6"/></g>
<g fill="#a8a458"><rect x="31" y="27" width="43" height="6"/><rect x="91" y="27" width="43" height="6"/><rect x="151" y="27" width="43" height="6"/><rect x="211" y="27" width="43" height="6"/><rect x="271" y="27" width="43" height="6"/><rect x="331" y="27" width="43" height="6"/></g>
<g fill="#00ff00"><rect x="391" y="-3" width="43" height="3"/><rect x="451" y="-3" width="43" height="3"/></g>
<g fill="#00a850"><rect x="391" y="0" width="43" height="3"/><rect x="451" y="0" width="43" height="3"/></g>
<g fill="#0050a8"><rect x="511" y="42" width="43" height="6"/><rect x="571" y="42" width="43" height="6"/><rect x="631" y="42" width="43" height="6"/><rect x="691" y="42" width="43" height="6"/></g>
<g fill="#8a9a60"><rect x="511" y="58" width="43" height="3"/><rect x="571" y="58" width="43" height="3"/><rect x="631" y="58" width="43" height="3"/><rect x="691" y="58" width="43" height="3"/></g>
<g fill="#ffa500"><rect x="511" y="61" width="43" height="3"/><rect x="571" y="61" width="43" height="3"/><rect x="631" y="61" width="43" height="3"/><rect x="691" y="61" width="43" height="3"/><rect x="751" y="58" width="43" height="6"/><rect x="811" y="58" width="43" height="6"/></g>
<g fill="#0000ff"><rect x="751" y="42" width="43" height="6"/><rect x="811" y="42" width="43" height="6"/><rect x="871" y="42" width="43" height="6"/><rect x="931" y="42" width="43" height="6"/></g>
<g fill="#ff0000"><rect x="871" y="12" width="43" height="6"/><rect x="931" y="12" width="43" height="6"/></g>
<use href="#r" x="31" y="15"/><use href="#r" x="91" y="15"/><use href="#r" x="151" y="15"/><use href="#r" x="211" y="15"/><use href="#r" x="271" y="15"/><use href="#r" x="331" y="15"/><use href="#r" x="391" y="15"/><use href="#r" x="451" y="15"/>
<use href="#y" x="31" y="30"/><use href="#y" x="91" y="30"/><use href="#y" x="151" y="30"/><use href="#y" x="211" y="30"/><use href="#y" x="271" y="30"/><use href="#y" x="331" y="30"/>
<use href="#g" x="391"/><use href="#g" x="451"/>
<use href="#SB" x="511" y="45"/><use href="#SB" x="571" y="45"/><use href="#SB" x="631" y="45"/><use href="#SB" x="691" y="45"/>
<use href="#SO" x="511" y="61"/><use href="#SO" x="571" y="61"/><use href="#SO" x="631" y="61"/><use href="#SO" x="691" y="61"/>
<use href="#B" x="751" y="45"/><use href="#B" x="811" y="45"/><use href="#B" x="871" y="45"/><use href="#B" x="931" y="45"/>
<use href="#O" x="751" y="61"/><use href="#O" x="811" y="61"/><use href="#R" x="871" y="15"/><use href="#R" x="931" y="15"/>
<text class="n" x="32" y="-7">69</text><text class="n" x="272" y="-7">70</text><text class="n" x="512" y="-7">71</text><text class="n" x="752" y="-7">72</text>
<text class="a" x="270" y="77">272</text><text class="b" x="270" y="90">84531</text><text class="c" x="270" y="103">0.00%</text>
<text class="a" x="510" y="77">272</text><text class="b" x="510" y="90">86707</text><text class="c" x="510" y="103">0.00%</text>
<text class="a" x="750" y="77">272</text><text class="b" x="750" y="90">88551</text><text class="c" x="750" y="103">29.68%</text>
<text class="a" x="990" y="77">272</text><text class="b" x="990" y="90">89639</text><text class="c" x="990" y="103">29.68%</text>
</g>

<!-- Row 18 -->
<g transform="translate(0,2743)">
<use href="#grid4"/>
<g fill="#ff0000"><rect x="31" y="12" width="43" height="6"/><rect x="91" y="12" width="43" height="6"/><rect x="151" y="12" width="43" height="6"/><rect x="211" y="12" width="43" height="6"/><rect x="271" y="12" width="43" height="6"/><rect x="331" y="12" width="43" height="6"/><rect x="391" y="12" width="43" height="6"/><rect x="451" y="12" width="43" height="6"/><rect x="871" y="12" width="43" height="6"/><rect x="931" y="12" width="43" height="6"/></g>
<g fill="#ffff00"><rect x="31" y="27" width="43" height="6"/><rect x="91" y="27" width="43" height="6"/><rect x="151" y="27" width="43" height="6"/><rect x="211" y="27" width="43" height="6"/><rect x="271" y="27" width="43" height="6"/><rect x="331" y="27" width="43" height="6"/></g>
<g fill="#00ff00"><rect x="391" y="-3" width="43" height="6"/><rect x="451" y="-3" width="43" height="6"/></g>
<g fill="#0000ff"><rect x="511" y="42" width="43" height="6"/><rect x="571" y="42" width="43" height="6"/><rect x="631" y="42" width="43" height="6"/><rect x="691" y="42" width="43" height="6"/><rect x="751" y="42" width="43" height="6"/><rect x="811" y="42" width="43" height="6"/><rect x="871" y="42" width="43" height="6"/><rect x="931" y="42" width="43" height="6"/></g>
<g fill="#ffa500"><rect x="511" y="58" width="43" height="6"/><rect x="571" y="58" width="43" height="6"/><rect x="631" y="58" width="43" height="6"/><rect x="691" y="58" width="43" height="6"/><rect x="751" y="58" width="43" height="6"/><rect x="811" y="58" width="43" height="6"/></g>
<use href="#R" x="31" y="15"/><use href="#R" x="91" y="15"/><use href="#R" x="151" y="15"/><use href="#R" x="211" y="15"/><use href="#R" x="271" y="15"/><use href="#R" x="331" y="15"/><use href="#R" x="391" y="15"/><use href="#R" x="451" y="15"/>
<use href="#Y" x="31" y="30"/><use href="#Y" x="91" y="30"/><use href="#Y" x="151" y="30"/><use href="#Y" x="211" y="30"/><use href="#Y" x="271" y="30"/><use href="#Y" x="331" y="30"/>
<use href="#G" x="391"/><use href="#G" x="451"/>
<use href="#B" x="511" y="45"/><use href="#B" x="571" y="45"/><use href="#B" x="631" y="45"/><use href="#B" x="691" y="45"/><use href="#B" x="751" y="45"/><use href="#B" x="811" y="45"/><use href="#B" x="871" y="45"/><use href="#B" x="931" y="45"/>
<use href="#O" x="511" y="61"/><use href="#O" x="571" y="61"/><use href="#O" x="631" y="61"/><use href="#O" x="691" y="61"/><use href="#O" x="751" y="61"/><use href="#O" x="811" y="61"/>
<use href="#R" x="871" y="15"/><use href="#R" x="931" y="15"/>
<text class="n" x="32" y="-7">73</text><text class="n" x="272" y="-7">74</text><text class="n" x="512" y="-7">75</text><text class="n" x="752" y="-7">76</text>
<text class="a" x="270" y="77">272</text><text class="b" x="270" y="90">90727</text><text class="c" x="270" y="103">29.68%</text>
<text class="a" x="510" y="77">272</text><text class="b" x="510" y="90">91815</text><text class="c" x="510" y="103">29.68%</text>
<text class="a" x="750" y="77">272</text><text class="b" x="750" y="90">92903</text><text class="c" x="750" y="103">29.68%</text>
<text class="a" x="990" y="77">272</text><text class="b" x="990" y="90">93991</text><text class="c" x="990" y="103">29.68%</text>
</g>

<!-- Row 19 -->
<g transform="translate(0,2884)">
<rect x="751" y="0" width="210" height="61" fill="#aaffaa"/>
<use href="#grid4"/>
<g fill="#ff0000"><rect x="31" y="12" width="43" height="6"/><rect x="91" y="12" width="43" height="6"/><rect x="151" y="12" width="43" height="6"/><rect x="211" y="12" width="43" height="6"/><rect x="271" y="12" width="43" height="6"/><rect x="331" y="12" width="43" height="6"/><rect x="391" y="12" width="43" height="6"/><rect x="451" y="12" width="43" height="6"/></g>
<g fill="#ffff00"><rect x="31" y="27" width="43" height="6"/><rect x="91" y="27" width="43" height="6"/><rect x="151" y="27" width="43" height="6"/><rect x="211" y="27" width="43" height="6"/><rect x="271" y="27" width="43" height="6"/><rect x="331" y="27" width="43" height="6"/></g>
<g fill="#00ff00"><rect x="391" y="-3" width="43" height="6"/><rect x="451" y="-3" width="43" height="6"/></g>
<use href="#R" x="31" y="15"/><use href="#R" x="91" y="15"/><use href="#R" x="151" y="15"/><use href="#R" x="211" y="15"/><use href="#R" x="271" y="15"/><use href="#R" x="331" y="15"/><use href="#R" x="391" y="15"/><use href="#R" x="451" y="15"/>
<use href="#Y" x="31" y="30"/><use href="#Y" x="91" y="30"/><use href="#Y" x="151" y="30"/><use href="#Y" x="211" y="30"/><use href="#Y" x="271" y="30"/><use href="#Y" x="331" y="30"/>
<use href="#G" x="391"/><use href="#G" x="451"/>
<use href="#G" x="511"/><use href="#G" x="541"/><use href="#G" x="571"/><use href="#G" x="601"/><use href="#G" x="631"/><use href="#G" x="661"/><use href="#G" x="691"/><use href="#G" x="721"/>
<use href="#SG" x="751"/><use href="#SG" x="781"/><use href="#SG" x="811"/><use href="#SG" x="841"/>
<use href="#SR" x="871" y="15"/><use href="#SR" x="901" y="15"/><use href="#SR" x="931" y="15"/><use href="#SR" x="961" y="15"/>
<text class="n" x="32" y="-7">77</text><text class="n" x="272" y="-7">78</text><text class="n" x="512" y="-7">79</text><text class="n" x="752" y="-7">80</text>
<text class="a" x="270" y="77">272</text><text class="b" x="270" y="90">95079</text><text class="c" x="270" y="103">29.68%</text>
<text class="a" x="510" y="77">272</text><text class="b" x="510" y="90">96167</text><text class="c" x="510" y="103">29.68%</text>
<text class="a" x="750" y="77">200</text><text class="b" x="750" y="90">96967</text><text class="c" x="750" y="103">29.68%</text>
<text class="a" x="990" y="77">200</text><text class="b" x="990" y="90">97767</text><text class="c" x="990" y="103">54.68%</text>
</g>

<!-- Row 20 -->
<g transform="translate(0,3025)">
<rect x="391" y="0" width="12" height="61" fill="#ffaaaa"/>
<rect x="403" y="0" width="588" height="61" fill="#aaaaff"/>
<use href="#grid4"/>
<use href="#Y" x="31" y="30"/>
<use href="#O" x="61" y="61"/><use href="#O" x="91" y="61"/><use href="#O" x="121" y="61"/><use href="#O" x="151" y="61"/><use href="#O" x="181" y="61"/><use href="#O" x="211" y="61"/><use href="#O" x="241" y="61"/><use href="#O" x="271" y="61"/><use href="#O" x="301" y="61"/><use href="#O" x="331" y="61"/><use href="#O" x="361" y="61"/>
<use href="#B" x="391" y="45"/><use href="#B" x="421" y="45"/><use href="#B" x="451" y="45"/><use href="#B" x="481" y="45"/>
<use href="#g" x="511"/><use href="#g" x="541"/><use href="#g" x="571"/><use href="#g" x="601"/><use href="#g" x="631"/><use href="#g" x="661"/><use href="#g" x="691"/><use href="#g" x="721"/><use href="#g" x="751"/><use href="#g" x="781"/><use href="#g" x="811"/><use href="#g" x="841"/>
<use href="#r" x="871" y="15"/><use href="#r" x="901" y="15"/><use href="#r" x="931" y="15"/><use href="#r" x="961" y="15"/>
<text class="n" x="32" y="-7">81</text><text class="n" x="272" y="-7">82</text><text class="n" x="512" y="-7">83</text><text class="n" x="752" y="-7">84</text>
<text class="a" x="270" y="77">200</text><text class="b" x="270" y="90">98567</text><text class="c" x="270" y="103">54.68%</text>
<text class="a" x="510" y="77">200</text><text class="b" x="510" y="90">99867</text><text class="c" x="510" y="103">49.17%</text>
<text class="a" x="750" y="77">200</text><text class="b" x="750" y="90">101367</text><text class="c" x="750" y="103">36.67%</text>
<text class="a" x="990" y="77">200</text><text class="b" x="990" y="90">102967</text><text class="c" x="990" y="103">24.17%</text>
</g>

<!-- Row 21 -->
<g transform="translate(0,3166)">
<rect x="31" y="0" width="463" height="61" fill="#aaaaff"/>
<rect x="494" y="0" width="17" height="61" fill="#ffaaaa"/>
<rect x="511" y="-10" width="210" height="81" fill="#ffffd0"/>
<rect x="511" y="0" width="210" height="61" fill="#aaffaa"/>
<use href="#grid4"/>
<use href="#o" x="31" y="61"/><use href="#o" x="61" y="61"/><use href="#o" x="91" y="61"/><use href="#o" x="121" y="61"/><use href="#o" x="151" y="61"/><use href="#o" x="211" y="61"/><use href="#o" x="241" y="61"/><use href="#o" x="271" y="61"/><use href="#o" x="301" y="61"/><use href="#o" x="331" y="61"/><use href="#o" x="361" y="61"/>
<use href="#y" x="181" y="30"/><use href="#y" x="451" y="30"/>
<use href="#B" x="391" y="45"/><use href="#B" x="421" y="45"/><use href="#g" x="481"/><use href="#g" x="496"/>
<use href="#SG" x="511"/><use href="#SG" x="541"/><use href="#SG" x="571"/><use href="#SG" x="601"/><use href="#SG" x="631"/><use href="#SG" x="661"/><use href="#SG" x="691"/><use href="#SG" x="721"/>
<use href="#G" x="751"/><use href="#G" x="781"/><use href="#G" x="811"/><use href="#G" x="841"/>
<use href="#R" x="871" y="15"/><use href="#R" x="901" y="15"/><use href="#R" x="931" y="15"/><use href="#R" x="961" y="15"/>
<text class="n" x="32" y="-7">85</text><text class="n" x="272" y="-7">86</text><text class="n" x="512" y="-7">87</text><text class="n" x="752" y="-7">88</text>
<text class="a" x="270" y="77">200</text><text class="b" x="270" y="90">104567</text><text class="c" x="270" y="103">11.67%</text>
<text class="a" x="510" y="77">225</text><text class="b" x="510" y="90">106367</text><text class="c" x="510" y="103">0.00%</text>
<text class="a" x="750" y="77">200</text><text class="b" x="750" y="90">107267</text><text class="c" x="750" y="103">25.00%</text>
<text class="a" x="990" y="77">200</text><text class="b" x="990" y="90">108067</text><text class="c" x="990" y="103">25.00%</text>
</g>

<!-- Row 22 -->
<g transform="translate(0,3307)">
<use href="#grid4"/>
<use href="#O" x="31" y="61"/><use href="#O" x="61" y="61"/><use href="#O" x="91" y="61"/><use href="#O" x="121" y="61"/><use href="#O" x="151" y="61"/><use href="#O" x="181" y="61"/><use href="#O" x="211" y="61"/><use href="#O" x="241" y="61"/><use href="#O" x="271" y="61"/><use href="#O" x="301" y="61"/><use href="#O" x="331" y="61"/><use href="#O" x="361" y="61"/>
<use href="#B" x="391" y="45"/><use href="#B" x="421" y="45"/><use href="#B" x="451" y="45"/><use href="#B" x="481" y="45"/>
<use href="#G" x="511"/><use href="#G" x="541"/><use href="#G" x="571"/><use href="#G" x="601"/><use href="#G" x="631"/><use href="#G" x="661"/><use href="#G" x="691"/><use href="#G" x="721"/><use href="#G" x="751"/><use href="#G" x="781"/><use href="#G" x="811"/><use href="#G" x="841"/>
<use href="#R" x="871" y="15"/><use href="#R" x="901" y="15"/><use href="#R" x="931" y="15"/><use href="#R" x="961" y="15"/>
<text class="n" x="32" y="-7">89</text><text class="n" x="272" y="-7">90</text><text class="n" x="512" y="-7">91</text><text class="n" x="752" y="-7">92</text>
<text class="a" x="270" y="77">200</text><text class="b" x="270" y="90">108867</text><text class="c" x="270" y="103">25.00%</text>
<text class="a" x="510" y="77">200</text><text class="b" x="510" y="90">109667</text><text class="c" x="510" y="103">25.00%</text>
<text class="a" x="750" y="77">200</text><text class="b" x="750" y="90">110467</text><text class="c" x="750" y="103">25.00%</text>
<text class="a" x="990" y="77">200</text><text class="b" x="990" y="90">111267</text><text class="c" x="990" y="103">25.00%</text>
</g>

<!-- Row 23 -->
<g transform="translate(0,3448)">
<rect x="511" y="-10" width="480" height="81" fill="#d4dce8"/>
<use href="#grid4"/>
<rect x="511" y="27" width="343" height="6" fill="#ffff00"/>
<rect x="871" y="42" width="105" height="6" fill="#0000ff"/>
<use href="#O" x="31" y="61"/><use href="#O" x="61" y="61"/><use href="#O" x="91" y="61"/><use href="#O" x="121" y="61"/><use href="#O" x="151" y="61"/><use href="#O" x="181" y="61"/><use href="#O" x="211" y="61"/><use href="#O" x="241" y="61"/><use href="#O" x="271" y="61"/><use href="#O" x="301" y="61"/><use href="#O" x="331" y="61"/><use href="#O" x="361" y="61"/>
<use href="#B" x="391" y="45"/><use href="#B" x="421" y="45"/><use href="#G" x="451"/>
<use href="#Y" x="511" y="30"/><use href="#B" x="871" y="45"/>
<text class="n" x="32" y="-7">93</text><text class="n" x="272" y="-7">94</text><text class="n" x="512" y="-7">95</text><text class="n" x="752" y="-7">96</text>
<text class="a" x="270" y="77">200</text><text class="b" x="270" y="90">112067</text><text class="c" x="270" y="103">25.00%</text>
<text class="a" x="510" y="77">175</text><text class="b" x="510" y="90">112767</text><text class="c" x="510" y="103">25.00%</text>
<text class="a" x="750" y="77">73</text><text class="b" x="750" y="90">113059</text><text class="c" x="750" y="103">25.00%</text>
<text class="a" x="990" y="77">67</text><text class="b" x="990" y="90">113327</text><text class="c" x="990" y="103">25.00%</text>
</g>

<!-- Row 24 -->
<g transform="translate(0,3589)">
<rect x="31" y="-10" width="960" height="81" fill="#d4dce8"/>
<rect x="271" y="0" width="223" height="61" fill="#90e898"/>
<use href="#grid4"/>
<rect x="46" y="12" width="210" height="6" fill="#ff0000"/>
<rect x="271" y="-3" width="105" height="6" fill="#00ff00"/>
<rect x="391" y="58" width="103" height="3" fill="#b0c000"/>
<rect x="391" y="61" width="103" height="3" fill="#ffa500"/>
<rect x="526" y="12" width="328" height="6" fill="#ff0000"/>
<rect x="871" y="27" width="105" height="6" fill="#ffff00"/>
<use href="#G" x="31"/><use href="#R" x="46" y="15"/><use href="#SG" x="271"/><use href="#SO" x="391" y="61"/>
<use href="#G" x="511"/><use href="#R" x="526" y="15"/><use href="#Y" x="871" y="30"/>
<text class="n" x="32" y="-7">97</text><text class="n" x="272" y="-7">98</text><text class="n" x="512" y="-7">99</text><text class="n" x="752" y="-7">100</text>
<text class="a" x="270" y="77">92</text><text class="b" x="270" y="90">113695</text><text class="c" x="270" y="103">25.00%</text>
<text class="a" x="510" y="77">92</text><text class="b" x="510" y="90">114063</text><text class="c" x="510" y="103">61.90%</text>
<text class="a" x="750" y="77">95</text><text class="b" x="750" y="90">114443</text><text class="c" x="750" y="103">61.90%</text>
<text class="a" x="990" y="77">67</text><text class="b" x="990" y="90">114711</text><text class="c" x="990" y="103">61.90%</text>
</g>

<!-- Row 25 -->
<g transform="translate(0,3730)">
<rect x="31" y="-10" width="960" height="81" fill="#d4dce8"/>
<rect x="31" y="0" width="960" height="61" fill="#9098f0"/>
<rect x="31" y="0" width="10" height="61" fill="#e09ab0"/>
<use href="#grid4"/>
<rect x="91" y="42" width="45" height="6" fill="#0000ff"/>
<rect x="151" y="42" width="105" height="6" fill="#0000ff"/>
<rect x="271" y="12" width="105" height="6" fill="#a80050"/>
<rect x="391" y="12" width="60" height="6" fill="#a80050"/>
<rect x="901" y="58" width="75" height="3" fill="#b07850"/>
<rect x="901" y="61" width="75" height="3" fill="#ffa500"/>
<use href="#B" x="31" y="45"/><use href="#o" x="61" y="61"/><use href="#B" x="91" y="45"/><use href="#B" x="151" y="45"/>
<use href="#r" x="271" y="15"/><use href="#r" x="391" y="15"/>
<use href="#g" x="541"/><use href="#g" x="601"/><use href="#g" x="661"/><use href="#g" x="721"/><use href="#g" x="781"/><use href="#g" x="841"/>
<use href="#y" x="526" y="30"/><use href="#y" x="586" y="30"/><use href="#y" x="646" y="30"/><use href="#y" x="706" y="30"/><use href="#y" x="766" y="30"/><use href="#y" x="826" y="30"/>
<use href="#o" x="511" y="61"/><use href="#o" x="571" y="61"/><use href="#o" x="631" y="61"/><use href="#o" x="691" y="61"/><use href="#o" x="751" y="61"/><use href="#o" x="811" y="61"/>
<use href="#B" x="871" y="45"/><use href="#o" x="901" y="61"/>
<text class="n" x="32" y="-7">101</text><text class="n" x="272" y="-7">102</text><text class="n" x="512" y="-7">103</text><text class="n" x="752" y="-7">104</text>
<text class="a" x="270" y="77">130</text><text class="b" x="270" y="90">115751</text><text class="c" x="270" y="103">49.98%</text>
<text class="a" x="510" y="77">83</text><text class="b" x="510" y="90">116415</text><text class="c" x="510" y="103">37.48%</text>
<text class="a" x="750" y="77">300</text><text class="b" x="750" y="90">118815</text><text class="c" x="750" y="103">24.98%</text>
<text class="a" x="990" y="77">215</text><text class="b" x="990" y="90">120535</text><text class="c" x="990" y="103">12.48%</text>
</g>

<!-- Row 26 -->
<g transform="translate(0,3871)">
<rect x="31" y="-10" width="960" height="81" fill="#d4dce8"/>
<rect x="511" y="-10" width="210" height="81" fill="#dde3c4"/>
<rect x="31" y="0" width="960" height="61" fill="#9098f0"/>
<rect x="511" y="0" width="210" height="61" fill="#60a0c0"/>
<use href="#grid4"/>
<rect x="31" y="42" width="105" height="6" fill="#0000ff"/>
<rect x="151" y="-3" width="225" height="3" fill="#00ff00"/>
<rect x="151" y="0" width="225" height="3" fill="#00a850"/>
<rect x="406" y="12" width="90" height="6" fill="#a80050"/>
<rect x="871" y="42" width="105" height="6" fill="#0000ff"/>
<use href="#B" x="31" y="45"/><use href="#g" x="151"/><use href="#g" x="391"/><use href="#r" x="406" y="15"/>
<use href="#SG" x="541"/><use href="#SG" x="601"/><use href="#SG" x="661"/><use href="#SG" x="721"/>
<use href="#SY" x="526" y="30"/><use href="#SY" x="586" y="30"/><use href="#SY" x="646" y="30"/><use href="#SY" x="706" y="30"/>
<use href="#SO" x="511" y="61"/><use href="#SO" x="571" y="61"/><use href="#SO" x="631" y="61"/><use href="#SO" x="691" y="61"/>
<use href="#g" x="781"/><use href="#g" x="841"/><use href="#y" x="766" y="30"/><use href="#y" x="826" y="30"/><use href="#o" x="751" y="61"/><use href="#o" x="811" y="61"/>
<use href="#B" x="871" y="45"/>
<text class="n" x="32" y="-7">105</text><text class="n" x="272" y="-7">106</text><text class="n" x="512" y="-7">107</text><text class="n" x="752" y="-7">108</text>
<text class="a" x="270" y="77">95</text><text class="b" x="270" y="90">121295</text><text class="c" x="270" y="103">0.00%</text>
<text class="a" x="510" y="77">89</text><text class="b" x="510" y="90">122007</text><text class="c" x="510" y="103">0.00%</text>
<text class="a" x="750" y="77">300</text><text class="b" x="750" y="90">124407</text><text class="c" x="750" y="103">23.44%</text>
<text class="a" x="990" y="77">196</text><text class="b" x="990" y="90">126075</text><text class="c" x="990" y="103">10.94%</text>
</g>

<!-- Row 27 -->
<g transform="translate(0,4012)">
<rect x="31" y="-10" width="480" height="81" fill="#d4dce8"/>
<rect x="31" y="0" width="480" height="61" fill="#9098f0"/>
<rect x="511" y="0" width="240" height="61" fill="#aaaaff"/>
<use href="#grid4"/>
<rect x="31" y="27" width="105" height="6" fill="#a8a458"/>
<rect x="511" y="-3" width="343" height="3" fill="#00ff00"/>
<rect x="511" y="0" width="240" height="3" fill="#00a850"/>
<rect x="751" y="0" width="103" height="3" fill="#00ff00"/>
<rect x="871" y="42" width="105" height="6" fill="#0000ff"/>
<use href="#Y" x="31" y="30"/>
<use href="#g" x="151"/><use href="#g" x="181"/><use href="#g" x="211"/><use href="#g" x="241"/><use href="#g" x="271"/><use href="#g" x="301"/><use href="#g" x="331"/><use href="#g" x="361"/><use href="#g" x="391"/><use href="#g" x="421"/><use href="#g" x="451"/><use href="#g" x="481"/><use href="#g" x="511"/>
<use href="#B" x="871" y="45"/>
<text class="n" x="32" y="-7">109</text><text class="n" x="272" y="-7">110</text><text class="n" x="512" y="-7">111</text><text class="n" x="752" y="-7">112</text>
<text class="a" x="270" y="77">146</text><text class="b" x="270" y="90">127143</text><text class="c" x="270" y="103">0.00%</text>
<text class="a" x="510" y="77">200</text><text class="b" x="510" y="90">128743</text><text class="c" x="510" y="103">0.00%</text>
<text class="a" x="750" y="77">73</text><text class="b" x="750" y="90">136427</text><text class="c" x="750" y="103">0.00%</text>
<text class="a" x="990" y="77">67</text><text class="b" x="990" y="90">136695</text><text class="c" x="990" y="103">0.00%</text>
</g>

<!-- Row 28 -->
<g transform="translate(0,4153)">
<use href="#grid4"/>
<rect x="61" y="12" width="375" height="6" fill="#ff0000"/>
<rect x="451" y="-3" width="403" height="6" fill="#00ff00"/>
<rect x="871" y="42" width="105" height="6" fill="#0000ff"/>
<use href="#G" x="31"/><use href="#R" x="61" y="15"/><use href="#G" x="451"/><use href="#B" x="871" y="45"/>
<text class="n" x="32" y="-7">113</text><text class="n" x="272" y="-7">114</text><text class="n" x="512" y="-7">115</text><text class="n" x="752" y="-7">116</text>
<text class="a" x="270" y="77">92</text><text class="b" x="270" y="90">137063</text><text class="c" x="270" y="103">0.00%</text>
<text class="a" x="510" y="77">70</text><text class="b" x="510" y="90">137343</text><text class="c" x="510" y="103">0.00%</text>
<text class="a" x="750" y="77">48</text><text class="b" x="750" y="90">137535</text><text class="c" x="750" y="103">0.00%</text>
<text class="a" x="990" y="77">67</text><text class="b" x="990" y="90">137803</text><text class="c" x="990" y="103">0.00%</text>
</g>

<!-- Row 29 -->
<g transform="translate(0,4294)">
<use href="#grid4"/>
<rect x="61" y="12" width="435" height="6" fill="#ff0000"/>
<rect x="511" y="27" width="480" height="6" fill="#ffff00"/>
<use href="#G" x="31"/><use href="#R" x="61" y="15"/><use href="#Y" x="511" y="30"/>
<text class="n" x="32" y="-7">117</text><text class="n" x="272" y="-7">118</text><text class="n" x="512" y="-7">119</text><text class="n" x="752" y="-7">120</text>
<text class="a" x="270" y="77">92</text><text class="b" x="270" y="90">138171</text><text class="c" x="270" y="103">0.00%</text>
<text class="a" x="510" y="77">45</text><text class="b" x="510" y="90">138351</text><text class="c" x="510" y="103">0.00%</text>
<text class="a" x="750" y="77">73</text><text class="b" x="750" y="90">138643</text><text class="c" x="750" y="103">0.00%</text>
<text class="a" x="990" y="77">48</text><text class="b" x="990" y="90">138835</text><text class="c" x="990" y="103">0.00%</text>
</g>

<!-- Row 30 -->
<g transform="translate(0,4435)">
<use href="#grid1"/>
<rect x="31" y="27" width="90" height="6" fill="#ffff00"/>
<text class="n" x="32" y="-7">121</text>
<text class="a" x="270" y="77">18</text><text class="b" x="270" y="90">138907</text><text class="c" x="270" y="103">0.00%</text>
</g>
</svg>
</body></html>
